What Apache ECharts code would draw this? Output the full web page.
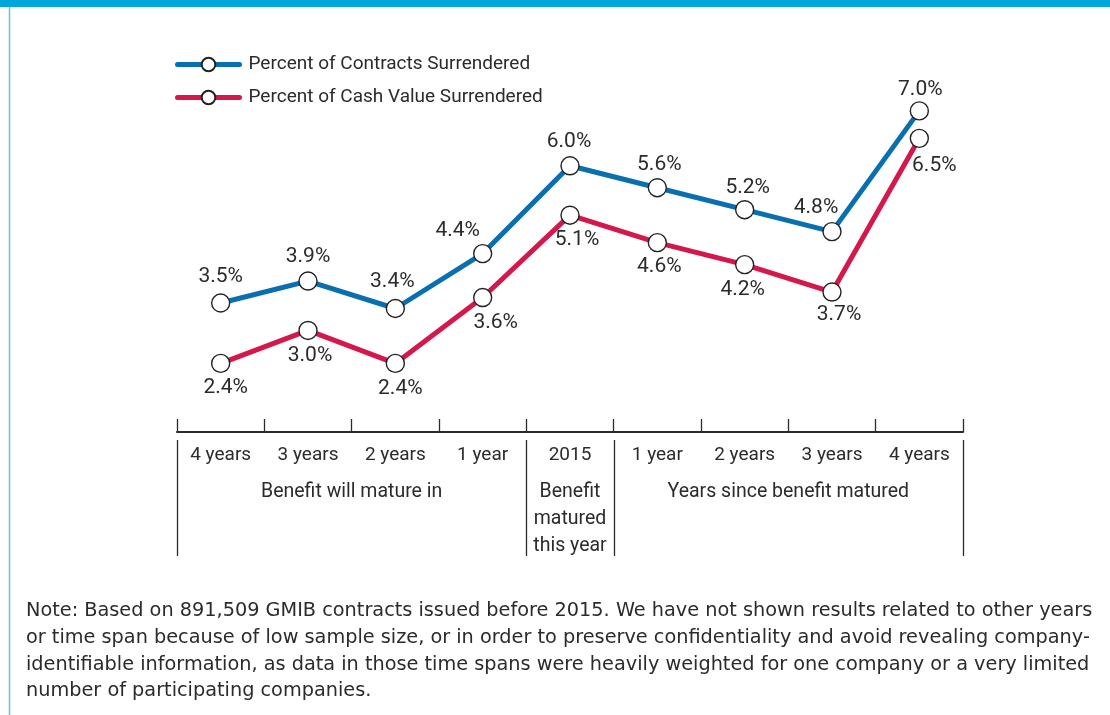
<!doctype html>
<html>
<head>
    <meta charset="utf-8">
    <script src="https://cdn.jsdelivr.net/npm/echarts@6/dist/echarts.min.js"></script>
    <style>
        html, body { margin: 0; padding: 0; background: #fff; }
        #chart { width: 1110px; height: 715px; }
    </style>
</head>
<body>
<div id="chart"></div>
<script type="text/javascript">
    // data
    var categories = ['4 years', '3 years', '2 years', '1 year', '2015', '1 year', '2 years', '3 years', '4 years'];
    var contractsPct = [3.5, 3.9, 3.4, 4.4, 6.0, 5.6, 5.2, 4.8, 7.0];
    var cashValuePct = [2.4, 3.0, 2.4, 3.6, 5.1, 4.6, 4.2, 3.7, 6.5];
    var seriesNames = ['Percent of Contracts Surrendered', 'Percent of Cash Value Surrendered'];
    var groupLabels = [
        { text: 'Benefit will mature in', from: 0, to: 3 },
        { text: 'Benefit\nmatured\nthis year', from: 4, to: 4 },
        { text: 'Years since benefit matured', from: 5, to: 8 }
    ];
    var noteText = 'Note: Based on 891,509 GMIB contracts issued before 2015. We have not shown results related to other years\n' +
        'or time span because of low sample size, or in order to preserve confidentiality and avoid revealing company-\n' +
        'identifiable information, as data in those time spans were heavily weighted for one company or a very limited\n' +
        'number of participating companies.';

    var FONT = 'Roboto, "Liberation Sans", sans-serif';
    var TXT = '#2b2b2b';
    var BLUE = '#0a6fb0';
    var RED = '#d4184b';

    // label offsets from the marker centre (px)
    var blueOffsets = [[0, -26], [0, -24], [-3, -27], [-25, -23], [-1, -24], [2, -23], [3, -22], [-16, -24], [1, -21]];
    var redOffsets = [[5, 24], [2, 25], [5, 25], [13, 25], [7, 25], [2, 24], [-2, 25], [7, 23], [15, 27]];

    function withLabels(values, offsets) {
        return values.map(function (v, i) {
            return { value: v, label: { offset: offsets[i] } };
        });
    }

    function makeSeries(name, color, values, offsets) {
        return {
            name: name,
            type: 'line',
            data: withLabels(values, offsets),
            symbol: 'circle',
            symbolSize: 18,
            lineStyle: { color: color, width: 5 },
            itemStyle: { color: '#fff', borderColor: '#222', borderWidth: 1.4 },
            label: {
                show: true,
                position: 'inside',
                fontFamily: FONT,
                fontSize: 21,
                color: TXT,
                formatter: function (p) { return p.value.toFixed(1) + '%'; }
            },
            emphasis: { disabled: true },
            z: 3
        };
    }

    var chart = echarts.init(document.getElementById('chart'));

    var option = {
        animation: false,
        grid: { left: 177, right: 147, top: 56, bottom: 283 },
        legend: {
            orient: 'vertical',
            left: 170,
            top: 50,
            itemWidth: 62,
            itemHeight: 17,
            itemGap: 14,
            lineStyle: { width: 5, cap: 'round' },
            textStyle: { fontFamily: FONT, fontSize: 19, color: TXT, padding: [0, 0, 0, 4] },
            data: seriesNames
        },
        xAxis: {
            type: 'category',
            data: categories,
            boundaryGap: true,
            axisLine: { show: true, lineStyle: { color: '#2b2b2b', width: 2 } },
            axisTick: { show: true, inside: true, interval: 0, length: 13, lineStyle: { color: '#2b2b2b', width: 1.3 } },
            axisLabel: { interval: 0, fontFamily: FONT, fontSize: 19, color: TXT, margin: 14 }
        },
        yAxis: {
            type: 'value',
            min: 1.15,
            max: 8.0,
            axisLine: { show: false },
            axisTick: { show: false },
            axisLabel: { show: false },
            splitLine: { show: false }
        },
        series: [
            makeSeries(seriesNames[0], BLUE, contractsPct, blueOffsets),
            makeSeries(seriesNames[1], RED, cashValuePct, redOffsets)
        ]
    };
    chart.setOption(option);

    // frame, category separators, group labels and note
    var c0 = chart.convertToPixel({ xAxisIndex: 0 }, 0);
    var c1 = chart.convertToPixel({ xAxisIndex: 0 }, 1);
    var band = c1 - c0;
    function boundary(i) { return c0 - band / 2 + i * band; }

    var graphics = [
        { type: 'rect', shape: { x: 0, y: 0, width: 1110, height: 7 }, style: { fill: '#00a5dc' } },
        { type: 'line', shape: { x1: 9.5, y1: 7, x2: 9.5, y2: 715 }, style: { stroke: '#5cc0e8', lineWidth: 1.5 } }
    ];
    [0, 4, 5, 9].forEach(function (i) {
        var x = Math.round(boundary(i)) + 0.5;
        graphics.push({ type: 'line', shape: { x1: x, y1: 440, x2: x, y2: 556 }, style: { stroke: '#2b2b2b', lineWidth: 1.3 } });
    });
    groupLabels.forEach(function (g) {
        var cx = (boundary(g.from) + boundary(g.to + 1)) / 2;
        graphics.push({
            type: 'text', x: cx, y: 479,
            style: { text: g.text, fontFamily: FONT, fontSize: 19.5, lineHeight: 27, fill: TXT, align: 'center', verticalAlign: 'top' }
        });
    });
    graphics.push({
        type: 'text', x: 26, y: 598,
        style: { text: noteText, fontFamily: '"DejaVu Sans", sans-serif', fontSize: 19.3, lineHeight: 26.7, fill: TXT, align: 'left', verticalAlign: 'top' }
    });
    chart.setOption({ graphic: graphics });
</script>
</body>
</html>
